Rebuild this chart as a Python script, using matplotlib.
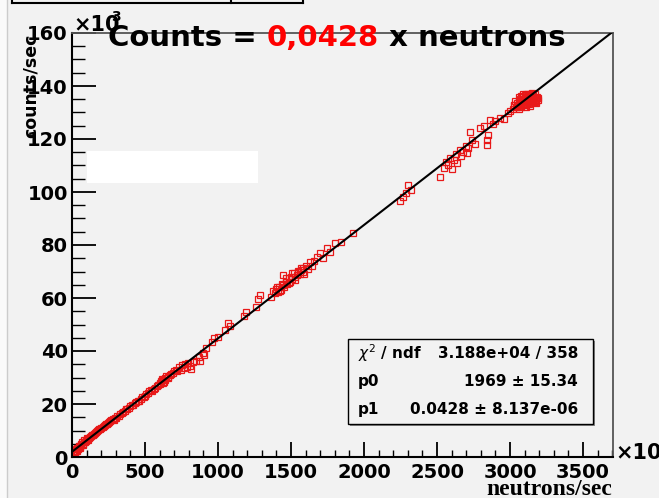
import matplotlib
matplotlib.use("Agg")
import matplotlib.pyplot as plt
from matplotlib.patches import Rectangle
from matplotlib.lines import Line2D
from matplotlib.ticker import MultipleLocator

# neutrons/sec (x10^3) vs counts/sec (x10^3)
neutrons = [5, 12, 20, 28, 35, 42, 50, 58, 65, 72, 80, 90, 100, 110, 120, 135, 150, 165,
            180, 195, 210, 225, 240, 255, 270, 285, 300, 320, 340, 360, 380, 400, 420, 440,
            460, 480, 500, 520, 540, 560, 580, 600, 610, 620, 630, 640, 655, 670, 690,
            15, 25, 32, 45, 55, 62, 68, 76, 85, 95, 105, 115, 128, 142, 158, 172, 188, 202,
            218, 232, 248, 262, 278, 292, 310, 330, 350, 370, 390, 410, 430, 450, 470, 490,
            510, 530, 550, 570, 590, 605, 615, 625, 635, 645, 660, 680, 700, 710,
            720, 735, 745, 755, 765, 775, 785, 795, 805, 815, 830, 850, 870, 880, 895, 905, 915,
            960, 975, 1000, 1050, 1065, 1080, 1180, 1195, 1260, 1275, 1290,
            1360, 1375, 1390, 1400, 1410, 1420, 1430, 1440, 1445, 1455, 1465, 1475, 1485, 1493,
            1500, 1510, 1520, 1530, 1540, 1550, 1560, 1570, 1580, 1590, 1600, 1615, 1630, 1645,
            1660, 1680, 1700, 1720, 1745, 1770, 1800, 1840, 1925,
            1405, 1425, 1448, 1468, 1488, 1505, 1525, 1545, 1565, 1585,
            2245, 2267, 2285, 2301, 2320,
            2521, 2545, 2560, 2575, 2590, 2600, 2615, 2630, 2640, 2655, 2665, 2680, 2695, 2705,
            2715, 2726, 2740, 2760,
            2795, 2820, 2842, 2845, 2850, 2863, 2880, 2900, 2932, 2960, 2985, 3000,
            3020, 3030, 3040, 3045, 3055, 3060, 3065, 3070, 3075, 3080, 3085, 3090, 3095, 3100,
            3100, 3105, 3110, 3115, 3120, 3120, 3125, 3130, 3135, 3140, 3145, 3150, 3155, 3160,
            3165, 3170, 3175, 3180, 3185, 3060, 3090, 3150, 3110, 3140,
            3025, 3035, 3050, 3058, 3068, 3078, 3088, 3098, 3108, 3118, 3128, 3138, 3148, 3158,
            3168, 3178, 3188, 3193]
counts = [0.8, 1.5, 2.0, 2.4, 3.5, 3.2, 4.0, 3.9, 4.9, 5.0, 5.6, 5.5, 6.8, 6.6, 7.5, 8.2, 8.8, 9.4,
          10.1, 10.5, 11.2, 12.0, 12.3, 13.1, 13.8, 14.0, 14.9, 15.5, 16.7, 17.2, 18.3, 19.1, 19.5, 20.8,
          21.3, 22.8, 23.1, 24.0, 25.2, 25.6, 26.9, 27.5, 28.6, 29.0, 28.4, 29.8, 30.2, 31.0, 31.6,
          1.2, 3.0, 2.2, 4.3, 3.5, 4.4, 5.5, 4.6, 6.3, 6.0, 7.2, 7.3, 7.9, 8.4, 9.2, 9.8, 10.6, 11.0,
          11.8, 12.6, 12.8, 13.4, 14.3, 14.6, 15.3, 16.2, 17.0, 18.0, 18.6, 19.6, 20.4, 21.0, 22.0, 22.6,
          23.6, 24.8, 25.0, 26.2, 27.0, 28.0, 29.4, 28.0, 29.2, 30.5, 30.0, 31.2, 32.6, 33.0,
          32.5, 33.8, 32.9, 34.6, 33.4, 35.2, 34.0, 35.6, 34.5, 33.2, 36.0, 36.4, 37.8, 36.2, 39.2, 38.5, 41.0,
          43.5, 44.8, 45.2, 47.8, 50.6, 49.5, 53.2, 54.8, 56.5, 59.8, 61.0,
          60.5, 62.5, 61.8, 63.5, 62.2, 64.3, 63.0, 65.2, 68.8, 64.0, 66.0, 65.1, 67.4, 66.2,
          68.0, 67.0, 69.4, 66.8, 68.6, 70.2, 69.0, 71.5, 70.0, 69.2, 72.0, 71.0, 73.4, 72.2,
          74.0, 75.5, 76.9, 75.0, 78.8, 77.4, 80.6, 81.2, 84.5,
          64.0, 62.8, 64.8, 67.5, 65.8, 69.5, 67.8, 69.8, 70.6, 71.2,
          96.5, 98.0, 99.8, 102.6, 100.6,
          105.7, 109.0, 111.5, 110.2, 113.0, 108.5, 112.2, 114.5, 111.0, 116.0, 113.5, 115.2, 117.5, 114.8,
          116.6, 122.6, 119.5, 118.2,
          124.0, 124.8, 117.7, 119.6, 121.5, 127.0, 125.5, 126.8, 128.0, 127.4, 129.8, 130.5,
          131.5, 132.8, 131.9, 133.6, 132.4, 134.5, 133.0, 135.2, 132.1, 134.0, 136.0, 133.3, 135.0, 134.2,
          136.5, 133.0, 135.6, 134.4, 136.8, 133.5, 135.2, 134.0, 136.2, 135.0, 133.8, 135.8, 134.6, 136.5,
          135.0, 133.9, 135.5, 134.2, 136.0, 131.2, 137.0, 137.2, 132.2, 132.5,
          133.0, 134.2, 132.0, 135.8, 134.0, 136.4, 134.8, 132.8, 136.9, 134.9, 133.2, 137.0, 134.2, 135.4,
          136.8, 133.4, 134.8, 135.6]

# fit result: counts = p0 + p1 * neutrons
fit_p0 = 1969
fit_p1 = 0.0428
stats_names = [r"$\chi^{2}$ / ndf", "p0", "p1"]
stats_values = ["3.188e+04 / 358", "1969 ± 15.34", "0.0428 ± 8.137e-06"]

xmax = 3705
ymax = 160
bg = "#f2f2f2"
W, H = 659, 498

fig = plt.figure(figsize=(6.59, 4.98), dpi=100, facecolor=bg)
ax = fig.add_axes([72 / W, 1 - 457 / H, (613 - 72) / W, (457 - 33) / H])
ax.set_facecolor(bg)

ax.plot(neutrons, counts, "s", mfc="none", mec="#e81818", ms=4.8, mew=0.9, zorder=2)
fx = [0, xmax]
fy = [(fit_p0 + fit_p1 * v * 1000) / 1000 for v in fx]
ax.plot(fx, fy, color="black", lw=1.5, zorder=3)

ax.set_xlim(0, xmax)
ax.set_ylim(0, ymax)
ax.xaxis.set_major_locator(MultipleLocator(500))
ax.xaxis.set_minor_locator(MultipleLocator(100))
ax.yaxis.set_major_locator(MultipleLocator(20))
ax.yaxis.set_minor_locator(MultipleLocator(5))
ax.tick_params(axis="both", which="both", direction="in", top=False, right=False,
               labelsize=14)
ax.tick_params(axis="x", which="major", length=11, width=1.3, pad=4)
ax.tick_params(axis="x", which="minor", length=5, width=1.0)
ax.tick_params(axis="y", which="major", length=17, width=1.3, pad=3)
ax.tick_params(axis="y", which="minor", length=9, width=1.0)
for lab in ax.get_xticklabels() + ax.get_yticklabels():
    lab.set_fontweight("bold")
for s in ["left", "bottom"]:
    ax.spines[s].set_linewidth(1.5)
    ax.spines[s].set_color("black")
for s in ["top", "right"]:
    ax.spines[s].set_linewidth(1.3)
    ax.spines[s].set_color("#555555")

# axis titles and exponents
fig.text(31 / W, 1 - 34 / H, "counts/sec", rotation=90, ha="center", va="top",
         fontsize=12.5, fontweight="bold")
fig.text(612 / W, 1 - 495 / H, "neutrons/sec", ha="right", va="baseline",
         fontsize=17, fontweight="bold", family="Liberation Serif")
fig.text(73 / W, 1 - 31 / H, "×10", ha="left", va="baseline", fontsize=15, fontweight="bold")
fig.text(111 / W, 1 - 21 / H, "3", ha="left", va="baseline", fontsize=10, fontweight="bold")
fig.text(615 / W, 1 - 459 / H, "×10", ha="left", va="baseline", fontsize=15, fontweight="bold")

# stats box
fig.add_artist(Rectangle((350 / W, 1 - 426 / H), 245 / W, 85 / H, transform=fig.transFigure,
                         facecolor="#888888", edgecolor="none", zorder=4))
fig.add_artist(Rectangle((348 / W, 1 - 424 / H), 245 / W, 85 / H, transform=fig.transFigure,
                         facecolor=bg, edgecolor="black", lw=1.0, zorder=5))
for i, (nm, val) in enumerate(zip(stats_names, stats_values)):
    yy = 1 - (353 + 28.3 * i) / H
    fig.text(358 / W, yy, nm, ha="left", va="center", fontsize=11, fontweight="bold", zorder=6)
    fig.text(578 / W, yy, val, ha="right", va="center", fontsize=11, fontweight="bold", zorder=6)

# blank patch over the plot and the cut-off box at the top
fig.add_artist(Rectangle((87 / W, 1 - 183 / H), 171 / W, 32 / H, transform=fig.transFigure,
                         facecolor="white", edgecolor="none", zorder=5))
fig.add_artist(Rectangle((0, 0), 7 / W, 1, transform=fig.transFigure,
                         facecolor="#fafafa", edgecolor="none", zorder=0))
fig.add_artist(Line2D([7 / W, 7 / W], [0, 1], transform=fig.transFigure, color="#cccccc", lw=1))
ytop = 1 - 3 / H
fig.add_artist(Line2D([12 / W, 303 / W], [ytop, ytop], transform=fig.transFigure, color="black", lw=1.5))
for xv in [12, 231, 303]:
    fig.add_artist(Line2D([xv / W, xv / W], [ytop, 1], transform=fig.transFigure, color="black", lw=1.5))

# title in two colours
parts = [("Counts = ", "black"), ("0,0428", "#ff0000"), (" x neutrons", "black")]
renderer = fig.canvas.get_renderer()
xpos = 108 / W
for txt, col in parts:
    t = fig.text(xpos, 1 - 46 / H, txt, color=col, fontsize=21, fontweight="bold",
                 ha="left", va="baseline", zorder=7)
    bb = t.get_window_extent(renderer)
    xpos = bb.x1 / (fig.dpi * fig.get_figwidth())

fig.savefig("out.png", dpi=100, facecolor=bg)
